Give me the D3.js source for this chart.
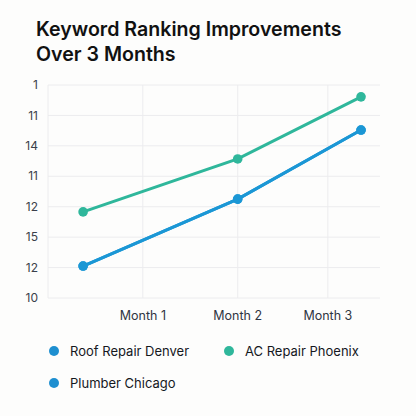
<!DOCTYPE html>
<html>
<head>
<meta charset="utf-8">
<script src="https://cdn.jsdelivr.net/npm/d3@7"></script>
<style>
  html, body { margin: 0; padding: 0; background: #fdfdfc; }
  svg { display: block; font-family: Inter, "Noto Sans", sans-serif; }
</style>
</head>
<body>
<div id="chart"></div>
<script>
// y tick labels as printed, top to bottom (one per grid row)
const yLabels = ['1', '11', '14', '11', '12', '15', '12', '10'];
const months = ['Month 1', 'Month 2', 'Month 3'];
const monthPos = [1, 2, 2.95];        // where the month labels sit on the x scale
const dataPos = [0.37, 2, 3.3];       // where the points sit on the x scale
// values in grid-row units (0 = top row)
const roofDenver = [5.95, 3.75, 1.48];
const acPhoenix = [4.17, 2.43, 0.39];
const plumberChicago = [5.95, 3.75, 1.48];

const seriesNames = ['Roof Repair Denver', 'AC Repair Phoenix', 'Plumber Chicago'];
const seriesColors = ['#1b97d5', '#2fb79b', '#1b97d5'];
const seriesValues = [roofDenver, acPhoenix, plumberChicago];

const width = 416;
const height = 416;
const plotLeft = 48, plotRight = 380, plotTop = 85, plotBottom = 298;

const svg = d3.select('#chart')
    .append('svg')
    .attr('width', width)
    .attr('height', height);

svg.append('rect').attr('width', width).attr('height', height).attr('fill', '#fdfdfc');

// title
const title = svg.append('text')
    .attr('x', 36)
    .attr('font-size', 19.6)
    .attr('font-weight', 600)
    .attr('fill', '#111');
title.append('tspan').attr('x', 36).attr('y', 36).text('Keyword Ranking Improvements');
title.append('tspan').attr('x', 36).attr('y', 61).text('Over 3 Months');

const xScale = d3.scaleLinear().domain([0, 3.5]).range([plotLeft, plotRight]);
const yScale = d3.scaleLinear().domain([0, yLabels.length - 1]).range([plotTop, plotBottom]);

// horizontal grid + y labels
const rows = d3.range(yLabels.length);
svg.append('g')
    .selectAll('line')
    .data(rows)
    .join('line')
    .attr('x1', plotLeft).attr('x2', plotRight)
    .attr('y1', d => yScale(d)).attr('y2', d => yScale(d))
    .attr('stroke', '#ececee')
    .attr('stroke-width', 1);

svg.append('g')
    .selectAll('text')
    .data(rows)
    .join('text')
    .attr('x', 38)
    .attr('y', d => yScale(d))
    .attr('dy', '0.35em')
    .attr('text-anchor', 'end')
    .attr('font-size', 12)
    .attr('fill', '#3a3f4a')
    .text(d => yLabels[d]);

// vertical grid
const vLines = [0].concat(monthPos);
svg.append('g')
    .selectAll('line')
    .data(vLines)
    .join('line')
    .attr('x1', d => xScale(d)).attr('x2', d => xScale(d))
    .attr('y1', plotTop).attr('y2', plotBottom)
    .attr('stroke', '#ececee')
    .attr('stroke-width', 1);

// month labels
svg.append('g')
    .selectAll('text')
    .data(months)
    .join('text')
    .attr('x', (d, i) => xScale(monthPos[i]))
    .attr('y', 320)
    .attr('text-anchor', 'middle')
    .attr('font-size', 12.5)
    .attr('fill', '#2f3542')
    .text(d => d);

// lines + points
const line = d3.line()
    .x((d, i) => xScale(dataPos[i]))
    .y(d => yScale(d));

seriesValues.forEach((vals, s) => {
    const g = svg.append('g');
    g.append('path')
        .datum(vals)
        .attr('fill', 'none')
        .attr('stroke', seriesColors[s])
        .attr('stroke-width', 3)
        .attr('d', line);
    g.selectAll('circle')
        .data(vals)
        .join('circle')
        .attr('cx', (d, i) => xScale(dataPos[i]))
        .attr('cy', d => yScale(d))
        .attr('r', 4.8)
        .attr('fill', seriesColors[s]);
});

// legend
const legendPos = [[54, 351], [229, 351], [54, 383]];
const legend = svg.append('g')
    .selectAll('g')
    .data(seriesNames)
    .join('g')
    .attr('transform', (d, i) => `translate(${legendPos[i][0]}, ${legendPos[i][1]})`);
legend.append('circle')
    .attr('r', 5)
    .attr('fill', (d, i) => i === 1 ? seriesColors[1] : '#1e8fd0');
legend.append('text')
    .attr('x', 16)
    .attr('dy', '0.35em')
    .attr('font-size', 13)
    .attr('fill', '#15181e')
    .text(d => d);
</script>
</body>
</html>
